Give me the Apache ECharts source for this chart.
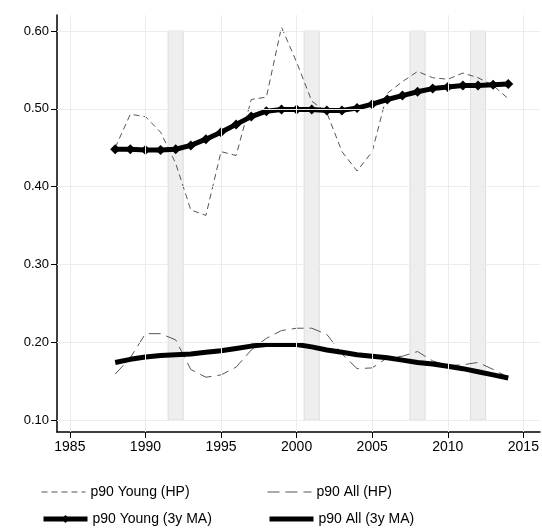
<!DOCTYPE html>
<html><head><meta charset="utf-8">
<script src="https://cdn.jsdelivr.net/npm/echarts@6/dist/echarts.min.js"></script>
<style>html,body{margin:0;background:#fff}#c{width:542px;height:529px}</style>
</head><body><div id="c"></div>
<script>
// data
const years = [];
for (let y = 1988; y <= 2014; y++) years.push(y);
const youngHP = [0.450,0.493,0.490,0.470,0.430,0.370,0.363,0.445,0.440,0.512,0.515,0.605,0.560,0.510,0.495,0.445,0.420,0.445,0.520,0.535,0.548,0.540,0.538,0.546,0.540,0.530,0.513];
const youngMA = [0.448,0.448,0.447,0.447,0.448,0.453,0.461,0.470,0.480,0.490,0.497,0.499,0.499,0.499,0.498,0.498,0.501,0.506,0.512,0.517,0.522,0.526,0.528,0.530,0.530,0.531,0.532];
const allHP = [0.159,0.180,0.211,0.211,0.203,0.165,0.155,0.158,0.168,0.190,0.205,0.215,0.218,0.218,0.210,0.185,0.166,0.167,0.180,0.182,0.188,0.176,0.170,0.171,0.174,0.165,0.155];
const allMA = [0.174,0.178,0.181,0.183,0.184,0.185,0.187,0.189,0.192,0.195,0.197,0.197,0.197,0.194,0.190,0.187,0.184,0.182,0.180,0.177,0.174,0.172,0.169,0.166,0.162,0.158,0.154];
const recessions = [[1991.5,1992.5],[2000.5,2001.5],[2007.5,2008.5],[2011.5,2012.5]];
const xTicks = [1985,1990,1995,2000,2005,2010,2015];
const yTicks = [0.1,0.2,0.3,0.4,0.5,0.6];

const pair = a => a.map((v, i) => [years[i], v]);
const font = 'Liberation Sans, Arial, sans-serif';
const legendText = { fontSize: 14, fontFamily: font, color: '#000' };
const leg = (left, top, name, hideSym, lw) => ({
  left, top, itemWidth: 44, itemHeight: 10, textStyle: legendText,
  data: [Object.assign({ name, lineStyle: { width: lw } }, hideSym ? { itemStyle: { opacity: 0 } } : {})]
});
const chart = echarts.init(document.getElementById('c'));
chart.setOption({
  animation: false,
  grid: { left: 57, right: 2, top: 15, bottom: 97 },
  xAxis: {
    type: 'value', min: 1984.15, max: 2016.1,
    axisLine: { lineStyle: { color: '#000', width: 1.5 } },
    axisTick: { customValues: xTicks, length: 6, lineStyle: { color: '#000' } },
    axisLabel: { customValues: xTicks, color: '#000', fontSize: 14, fontFamily: font, margin: 8,
      formatter: v => String(v) },
    splitLine: { show: false }
  },
  yAxis: {
    type: 'value', min: 0.0846, max: 0.6206,
    axisLine: { show: true, lineStyle: { color: '#000', width: 1.5 } },
    axisTick: { show: true, customValues: yTicks, length: 6, lineStyle: { color: '#000' } },
    axisLabel: { customValues: yTicks, color: '#000', fontSize: 13, fontFamily: font, formatter: v => v.toFixed(2) },
    splitLine: { show: false }
  },
  legend: [
    leg(36, 480, 'p90 Young (HP)', true, 1),
    leg(36, 507, 'p90 Young (3y MA)', false, 5),
    leg(262, 480, 'p90 All (HP)', true, 1),
    leg(262, 507, 'p90 All (3y MA)', true, 5)
  ],
  series: [
    { name: 'grid', type: 'line', data: [], silent: true,
      markLine: { silent: true, symbol: 'none', label: { show: false },
        lineStyle: { color: '#ececec', type: 'solid', width: 1 },
        data: xTicks.map(v => ({ xAxis: v })).concat(yTicks.map(v => ({ yAxis: v }))) },
      markArea: { silent: true, itemStyle: { color: '#eeeeee', borderColor: '#dddddd', borderWidth: 1 },
        data: recessions.map(r => [{ xAxis: r[0], yAxis: 0.1 }, { xAxis: r[1], yAxis: 0.6 }]) } },
    { name: 'p90 Young (HP)', type: 'line', data: pair(youngHP), showSymbol: false, symbol: 'none',
      lineStyle: { color: '#555', width: 1, type: [6, 4] }, itemStyle: { color: '#555' } },
    { name: 'p90 All (HP)', type: 'line', data: pair(allHP), showSymbol: false, symbol: 'none',
      lineStyle: { color: '#555', width: 1, type: [12, 6] }, itemStyle: { color: '#555' } },
    { name: 'p90 Young (3y MA)', type: 'line', data: pair(youngMA), symbol: 'diamond', symbolSize: 10,
      lineStyle: { color: '#000', width: 5 }, itemStyle: { color: '#000' } },
    { name: 'p90 All (3y MA)', type: 'line', data: pair(allMA), symbol: 'none',
      lineStyle: { color: '#000', width: 5 }, itemStyle: { color: '#000' } }
  ]
});
</script></body></html>
